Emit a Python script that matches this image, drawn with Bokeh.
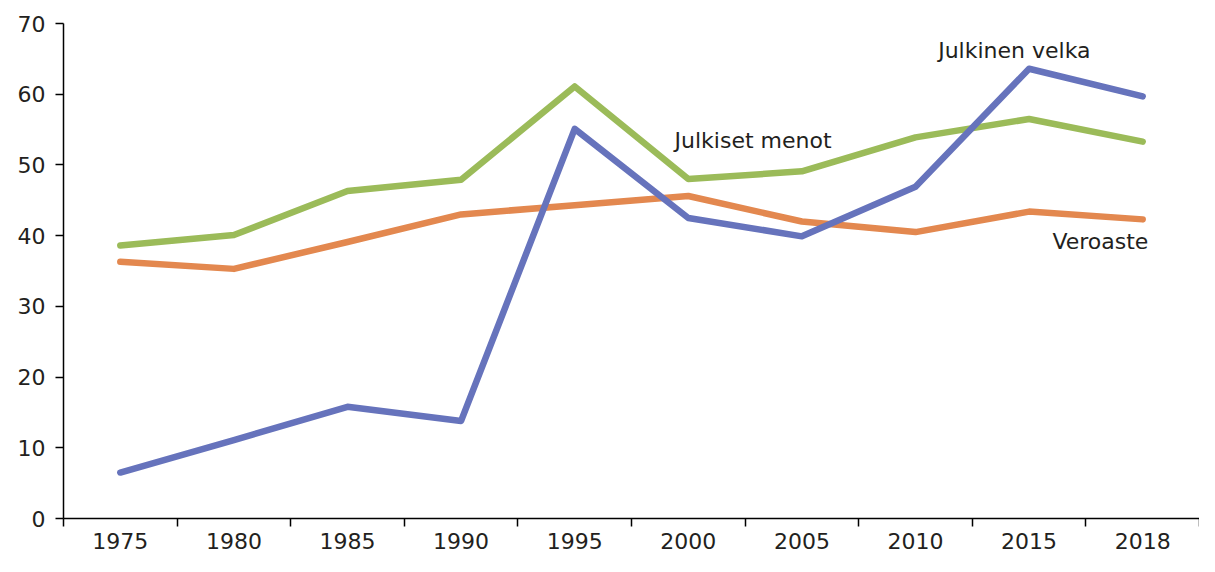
from bokeh.plotting import figure
from bokeh.models import Range1d, FixedTicker, ColumnDataSource
from bokeh.core.properties import value
from bokeh.embed import file_html
from bokeh.resources import INLINE

years = ["1975", "1980", "1985", "1990", "1995", "2000", "2005", "2010", "2015", "2018"]
julkiset_menot = [38.6, 40.1, 46.3, 47.9, 61.1, 48.0, 49.1, 53.9, 56.5, 53.3]
veroaste = [36.3, 35.3, 39.1, 43.0, 44.3, 45.6, 42.0, 40.5, 43.4, 42.3]
julkinen_velka = [6.5, 11.1, 15.8, 13.8, 55.1, 42.5, 39.9, 46.9, 63.6, 59.7]
y_ticks = [0, 10, 20, 30, 40, 50, 60, 70]

series_names = ["Julkiset menot", "Veroaste", "Julkinen velka"]
colors = ["#9BBB59", "#E3884F", "#6673BC"]

TEXT = "#231F20"
FONT = "DejaVu Sans"

xs = [i + 0.5 for i in range(len(years))]

p = figure(width=1199, height=556, output_backend="svg", toolbar_location=None,
           x_range=Range1d(0, len(years)), y_range=Range1d(0, 70),
           min_border_left=63, min_border_right=0, min_border_top=23, min_border_bottom=38)
p.outline_line_color = None
p.grid.visible = False
p.background_fill_color = "white"

for vals, c in zip([julkiset_menot, veroaste, julkinen_velka], colors):
    src = ColumnDataSource(dict(x=xs, y=vals))
    p.line("x", "y", source=src, line_color=c, line_width=6.5,
           line_cap="round", line_join="round")

# annotations
ann = ColumnDataSource(dict(
    x=[6.07, 8.37], y=[53.4, 66.2], t=["Julkiset menot", "Julkinen velka"]))
p.text("x", "y", text="t", source=ann, text_align="center", text_baseline="middle",
       text_font=value(FONT), text_font_size="22px", text_color=TEXT)
ann2 = ColumnDataSource(dict(x=[9.55], y=[39.2], t=["Veroaste"]))
p.text("x", "y", text="t", source=ann2, text_align="right", text_baseline="middle",
       text_font=value(FONT), text_font_size="22px", text_color=TEXT)

# x axis: ticks between categories, labels at centres
xa = p.xaxis[0]
xa.ticker = FixedTicker(ticks=xs, minor_ticks=list(range(len(years) + 1)))
xa.major_label_overrides = {x: y for x, y in zip(xs, years)}
xa.major_tick_out = 0
xa.major_tick_in = 0
xa.minor_tick_out = 8
xa.minor_tick_in = 0
xa.minor_tick_line_color = "black"
xa.minor_tick_line_width = 1.5
xa.axis_line_color = "black"
xa.axis_line_width = 1.5
xa.major_label_standoff = 6
xa.major_label_text_font = FONT
xa.major_label_text_font_size = "22px"
xa.major_label_text_color = TEXT

ya = p.yaxis[0]
ya.ticker = FixedTicker(ticks=y_ticks)
ya.major_tick_out = 8
ya.major_tick_in = 0
ya.minor_tick_line_color = None
ya.major_tick_line_color = "black"
ya.major_tick_line_width = 1.5
ya.axis_line_color = "black"
ya.axis_line_width = 1.5
ya.major_label_standoff = 10
ya.major_label_text_font = FONT
ya.major_label_text_font_size = "22px"
ya.major_label_text_color = TEXT

open("out.html", "w").write(file_html(p, INLINE))
